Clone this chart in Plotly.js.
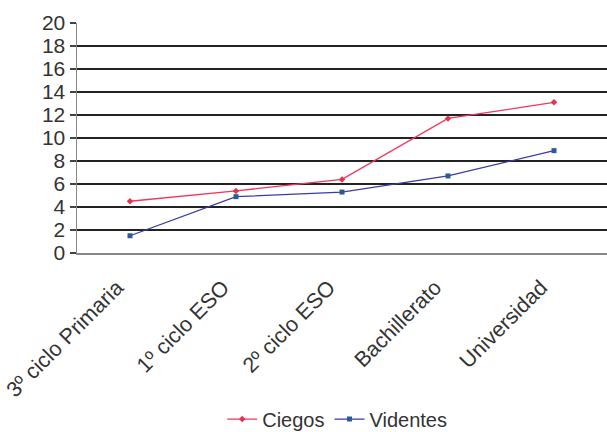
<!DOCTYPE html>
<html><head><meta charset="utf-8">
<script src="https://cdn.plot.ly/plotly-3.0.1.min.js"></script>
<style>html,body{margin:0;padding:0;background:#fff}</style>
</head><body>
<div id="chart" style="width:607px;height:432px"></div>
<script>
const categories = ["3º ciclo Primaria", "1º ciclo ESO", "2º ciclo ESO", "Bachillerato", "Universidad"];
const ciegos = [4.5, 5.4, 6.4, 11.7, 13.1];
const videntes = [1.5, 4.9, 5.3, 6.7, 8.9];
const yTicks = [0, 2, 4, 6, 8, 10, 12, 14, 16, 18, 20];

const traces = [
  {x: categories, y: ciegos, name: "Ciegos", type: "scatter", mode: "lines+markers",
   line: {color: "#F2355A", width: 1.3}, marker: {symbol: "diamond", size: 5, color: "#E8304F"}},
  {x: categories, y: videntes, name: "Videntes", type: "scatter", mode: "lines+markers",
   line: {color: "#3A3AA8", width: 1.3}, marker: {symbol: "square", size: 5, color: "#2B5A96"}}
];
const layout = {
  width: 607, height: 432,
  margin: {l: 77, r: 0, t: 23, b: 179, autoexpand: false},
  paper_bgcolor: "#fff", plot_bgcolor: "#fff",
  font: {family: "Liberation Sans, Arial, sans-serif", color: "#333"},
  showlegend: true,
  legend: {orientation: "h", x: 0.274, xanchor: "left", yref: "container", y: 0.03, yanchor: "middle",
           font: {size: 20, color: "#333"}, itemwidth: 30, itemgap: 2, tracegroupgap: 0},
  xaxis: {type: "category", range: [-0.5, 4.5], tickangle: -45, showgrid: false,
          showline: true, linecolor: "#888", linewidth: 1.5, ticks: "",
          ticklabelstandoff: 12, ticklabelshift: -13,
          tickfont: {size: 21.5, color: "#333"}, zeroline: false, automargin: false},
  yaxis: {range: [0, 20], tickvals: yTicks, ticktext: yTicks.map(String),
          showgrid: true, gridcolor: "#222", gridwidth: 1.3,
          showline: true, linecolor: "#888", linewidth: 1.5,
          ticks: "outside", ticklen: 6, tickcolor: "#444", tickwidth: 1.2,
          tickfont: {size: 21, color: "#333"}, zeroline: false, automargin: false}
};
Plotly.newPlot("chart", traces, layout, {displayModeBar: false, staticPlot: true});
</script>
</body></html>
